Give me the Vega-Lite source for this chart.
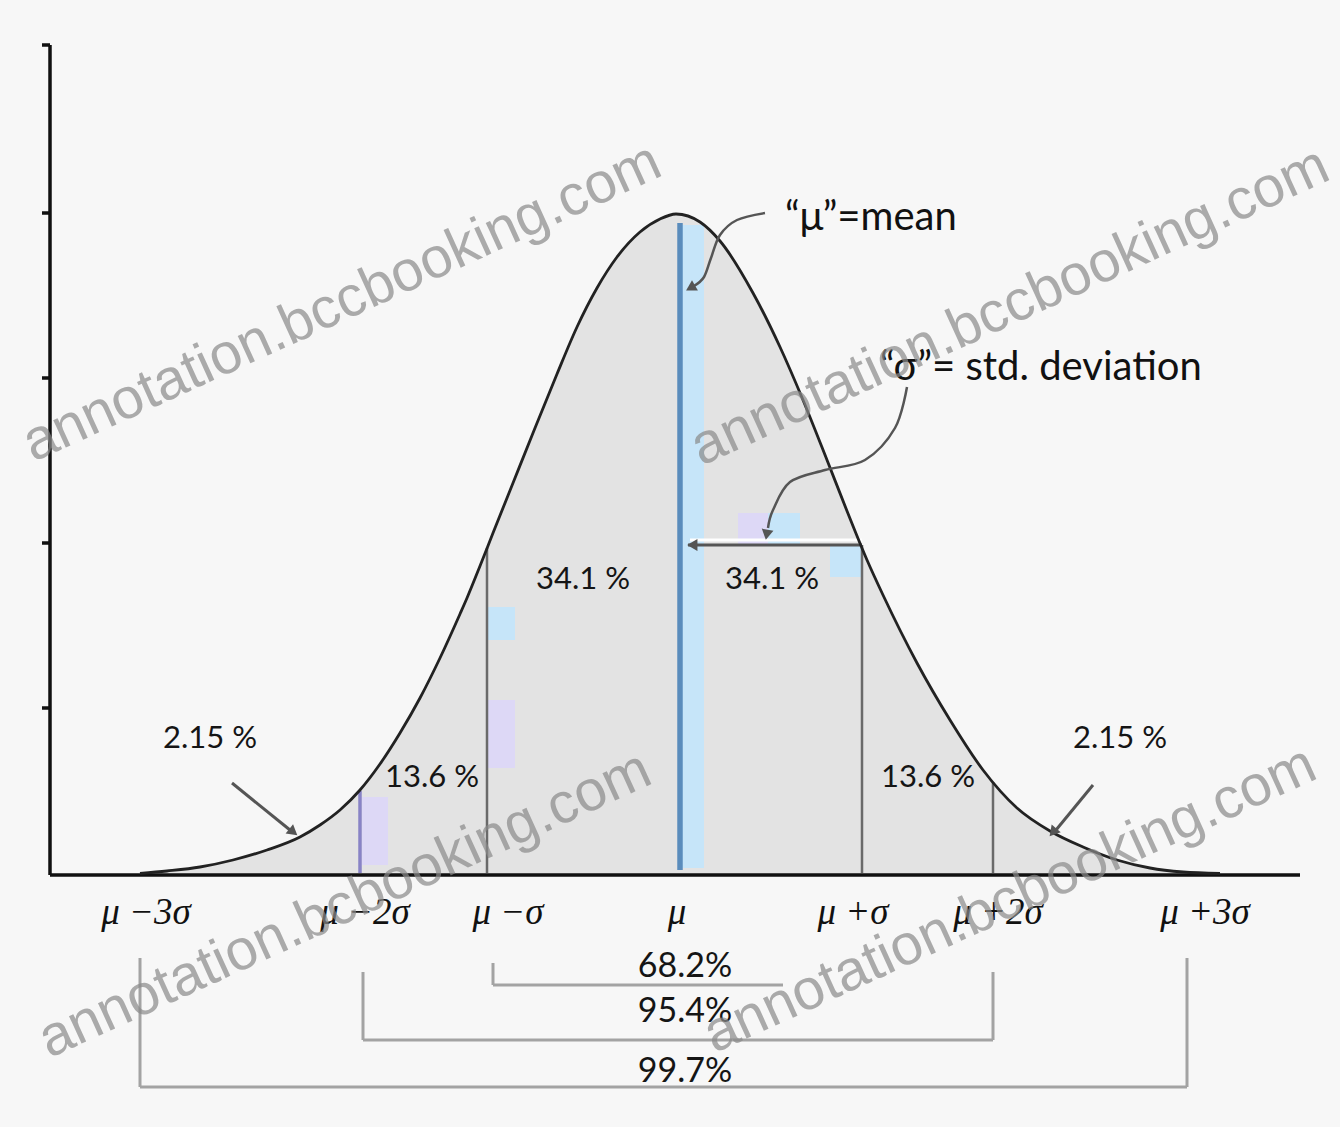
{
  "$schema": "https://vega.github.io/schema/vega-lite/v6.json",
  "width": 1340,
  "height": 1127,
  "autosize": {"type": "none"},
  "padding": 0,
  "background": "#f7f7f7",
  "config": {"view": {"stroke": null}},
  "datasets": {
    "curve": [
      {"u": -540, "v": 1.5}, {"u": -513, "v": 4}, {"u": -480, "v": 8}, {"u": -447, "v": 15},
      {"u": -413, "v": 25}, {"u": -380, "v": 38}, {"u": -360, "v": 50}, {"u": -340, "v": 65},
      {"u": -320, "v": 85}, {"u": -300, "v": 111}, {"u": -280, "v": 142}, {"u": -260, "v": 177},
      {"u": -240, "v": 217}, {"u": -220, "v": 261}, {"u": -213, "v": 277}, {"u": -200, "v": 309},
      {"u": -187, "v": 342}, {"u": -167, "v": 392}, {"u": -147, "v": 442}, {"u": -123, "v": 501},
      {"u": -103, "v": 548}, {"u": -83, "v": 587}, {"u": -63, "v": 618}, {"u": -40, "v": 643},
      {"u": -20, "v": 656}, {"u": -4, "v": 661}, {"u": 20, "v": 653}, {"u": 40, "v": 634},
      {"u": 73, "v": 582}, {"u": 100, "v": 528}, {"u": 123, "v": 475}, {"u": 147, "v": 415},
      {"u": 167, "v": 364}, {"u": 187, "v": 315}, {"u": 203, "v": 280}, {"u": 237, "v": 212},
      {"u": 270, "v": 155}, {"u": 303, "v": 105}, {"u": 337, "v": 67}, {"u": 370, "v": 44},
      {"u": 403, "v": 28}, {"u": 437, "v": 15}, {"u": 470, "v": 7}, {"u": 503, "v": 3},
      {"u": 540, "v": 1.5}
    ],
    "bands": [
      {"kind": "blue", "u": 2, "u2": 24, "v": 7, "v2": 650},
      {"kind": "blue", "u": -192, "u2": -165, "v": 235, "v2": 268},
      {"kind": "lavender", "u": -192, "u2": -165, "v": 107, "v2": 175},
      {"kind": "blue", "u": 150, "u2": 181, "v": 298, "v2": 330},
      {"kind": "lavender", "u": 58, "u2": 88, "v": 330, "v2": 362},
      {"kind": "blue", "u": 88, "u2": 120, "v": 330, "v2": 362},
      {"kind": "lavender", "u": -318, "u2": -292, "v": 10, "v2": 78}
    ],
    "rules": [
      {"group": "sigma", "u": -193, "v": 2, "u2": -193, "v2": 327},
      {"group": "sigma", "u": 182, "v": 2, "u2": 182, "v2": 330},
      {"group": "sigma", "u": 313, "v": 2, "u2": 313, "v2": 93},
      {"group": "purple", "u": -320, "v": 2, "u2": -320, "v2": 84},
      {"group": "mean", "u": 0, "v": 5, "u2": 0, "v2": 652},
      {"group": "highlight", "u": 10, "v": 335, "u2": 182, "v2": 335},
      {"group": "arrow", "u": 8, "v": 330, "u2": 182, "v2": 330},
      {"group": "arrow", "u": -448, "v": 92, "u2": -390, "v2": 45},
      {"group": "arrow", "u": 413, "v": 90, "u2": 376, "v2": 45},
      {"group": "bracket", "u": -187, "v": -88, "u2": -187, "v2": -110},
      {"group": "bracket", "u": -187, "v": -110, "u2": 103, "v2": -110},
      {"group": "bracket", "u": -317, "v": -97, "u2": -317, "v2": -165},
      {"group": "bracket", "u": -317, "v": -165, "u2": 313, "v2": -165},
      {"group": "bracket", "u": 313, "v": -97, "u2": 313, "v2": -165},
      {"group": "bracket", "u": -540, "v": -83, "u2": -540, "v2": -212},
      {"group": "bracket", "u": -540, "v": -212, "u2": 507, "v2": -212},
      {"group": "bracket", "u": 507, "v": -83, "u2": 507, "v2": -212},
      {"group": "axis", "u": -630, "v": 0, "u2": -630, "v2": 830},
      {"group": "axis", "u": -630, "v": 0, "u2": 620, "v2": 0},
      {"group": "axis", "u": -638, "v": 830, "u2": -630, "v2": 830},
      {"group": "axis", "u": -638, "v": 662, "u2": -630, "v2": 662},
      {"group": "axis", "u": -638, "v": 497, "u2": -630, "v2": 497},
      {"group": "axis", "u": -638, "v": 332, "u2": -630, "v2": 332},
      {"group": "axis", "u": -638, "v": 167, "u2": -630, "v2": 167}
    ],
    "paths": [
      {"id": "mu", "o": 1, "u": 85, "v": 662}, {"id": "mu", "o": 2, "u": 57, "v": 655},
      {"id": "mu", "o": 3, "u": 40, "v": 640}, {"id": "mu", "o": 4, "u": 31, "v": 617},
      {"id": "mu", "o": 5, "u": 24, "v": 598}, {"id": "mu", "o": 6, "u": 14, "v": 589},
      {"id": "sd", "o": 1, "u": 227, "v": 488}, {"id": "sd", "o": 2, "u": 215, "v": 447},
      {"id": "sd", "o": 3, "u": 185, "v": 415}, {"id": "sd", "o": 4, "u": 145, "v": 405},
      {"id": "sd", "o": 5, "u": 110, "v": 393}, {"id": "sd", "o": 6, "u": 93, "v": 365},
      {"id": "sd", "o": 7, "u": 88, "v": 347}
    ],
    "heads": [
      {"u": 14, "v": 330, "ang": 270},
      {"u": 12, "v": 588, "ang": 240},
      {"u": 87, "v": 342, "ang": 190},
      {"u": -388, "v": 44, "ang": 129},
      {"u": 374, "v": 44, "ang": 220}
    ],
    "axislabels": [
      {"label": "μ −3σ", "u": -534, "v": -38},
      {"label": "μ −2σ", "u": -315, "v": -38},
      {"label": "μ −σ", "u": -172, "v": -38},
      {"label": "μ", "u": -3, "v": -38},
      {"label": "μ +σ", "u": 173, "v": -38},
      {"label": "μ +2σ", "u": 318, "v": -38},
      {"label": "μ +3σ", "u": 525, "v": -38}
    ],
    "pct": [
      {"label": "34.1 %", "u": -97, "v": 295},
      {"label": "34.1 %", "u": 92, "v": 295},
      {"label": "13.6 %", "u": -248, "v": 97},
      {"label": "13.6 %", "u": 248, "v": 97},
      {"label": "2.15 %", "u": -470, "v": 136},
      {"label": "2.15 %", "u": 440, "v": 136}
    ],
    "totals": [
      {"label": "68.2%", "u": 5, "v": -92},
      {"label": "95.4%", "u": 5, "v": -137},
      {"label": "99.7%", "u": 5, "v": -197}
    ],
    "notes": [
      {"label": "“μ”=mean", "u": 105, "v": 657},
      {"label": "“σ”= std. deviation", "u": 200, "v": 507}
    ],
    "marks": [
      {"label": "annotation.bccbooking.com", "u": -338, "v": 572},
      {"label": "annotation.bccbooking.com", "u": 330, "v": 568},
      {"label": "annotation.bcbooking.com", "u": -335, "v": -30},
      {"label": "annotation.bcbooking.com", "u": 330, "v": -25}
    ]
  },
  "encoding": {
    "x": {"field": "u", "type": "quantitative", "scale": {"domain": [-680, 660], "nice": false, "zero": false}, "axis": null},
    "y": {"field": "v", "type": "quantitative", "scale": {"domain": [-252, 875], "nice": false, "zero": false}, "axis": null}
  },
  "layer": [
    {
      "data": {"name": "curve"},
      "mark": {"type": "area", "interpolate": "monotone", "color": "#e3e3e3"},
      "encoding": {"y2": {"datum": 0}}
    },
    {
      "data": {"name": "bands"},
      "mark": {"type": "rect"},
      "encoding": {
        "x2": {"field": "u2"},
        "y2": {"field": "v2"},
        "color": {"field": "kind", "type": "nominal", "scale": {"domain": ["blue", "lavender"], "range": ["#c6e5f9", "#ddd8f6"]}, "legend": null}
      }
    },
    {
      "data": {"name": "rules"},
      "transform": [{"filter": "datum.group === 'sigma'"}],
      "mark": {"type": "rule", "color": "#6a6a6a", "strokeWidth": 2.5},
      "encoding": {"x2": {"field": "u2"}, "y2": {"field": "v2"}}
    },
    {
      "data": {"name": "rules"},
      "transform": [{"filter": "datum.group === 'purple'"}],
      "mark": {"type": "rule", "color": "#8883c6", "strokeWidth": 3.5},
      "encoding": {"x2": {"field": "u2"}, "y2": {"field": "v2"}}
    },
    {
      "data": {"name": "rules"},
      "transform": [{"filter": "datum.group === 'mean'"}],
      "mark": {"type": "rule", "color": "#5a8cbc", "strokeWidth": 5.5},
      "encoding": {"x2": {"field": "u2"}, "y2": {"field": "v2"}}
    },
    {
      "data": {"name": "rules"},
      "transform": [{"filter": "datum.group === 'highlight'"}],
      "mark": {"type": "rule", "color": "#ffffff", "strokeWidth": 3},
      "encoding": {"x2": {"field": "u2"}, "y2": {"field": "v2"}}
    },
    {
      "data": {"name": "rules"},
      "transform": [{"filter": "datum.group === 'arrow'"}],
      "mark": {"type": "rule", "color": "#555555", "strokeWidth": 3},
      "encoding": {"x2": {"field": "u2"}, "y2": {"field": "v2"}}
    },
    {
      "data": {"name": "rules"},
      "transform": [{"filter": "datum.group === 'bracket'"}],
      "mark": {"type": "rule", "color": "#a3a3a3", "strokeWidth": 3},
      "encoding": {"x2": {"field": "u2"}, "y2": {"field": "v2"}}
    },
    {
      "data": {"name": "rules"},
      "transform": [{"filter": "datum.group === 'axis'"}],
      "mark": {"type": "rule", "color": "#111111", "strokeWidth": 3.5},
      "encoding": {"x2": {"field": "u2"}, "y2": {"field": "v2"}}
    },
    {
      "data": {"name": "curve"},
      "mark": {"type": "line", "interpolate": "monotone", "color": "#222222", "strokeWidth": 2.8},
      "encoding": {}
    },
    {
      "data": {"name": "paths"},
      "mark": {"type": "line", "interpolate": "cardinal", "color": "#555555", "strokeWidth": 2.5},
      "encoding": {"detail": {"field": "id"}, "order": {"field": "o", "type": "quantitative"}}
    },
    {
      "data": {"name": "heads"},
      "mark": {"type": "point", "shape": "triangle", "filled": true, "color": "#555555", "size": 140, "opacity": 1},
      "encoding": {"angle": {"field": "ang", "type": "quantitative", "scale": null}}
    },
    {
      "data": {"name": "axislabels"},
      "mark": {"type": "text", "font": "Liberation Serif", "fontStyle": "italic", "fontSize": 37, "color": "#111111", "align": "center", "baseline": "middle"},
      "encoding": {"text": {"field": "label"}}
    },
    {
      "data": {"name": "pct"},
      "mark": {"type": "text", "font": "Lato", "fontSize": 31, "color": "#151515", "align": "center", "baseline": "middle"},
      "encoding": {"text": {"field": "label"}}
    },
    {
      "data": {"name": "totals"},
      "mark": {"type": "text", "font": "Lato", "fontSize": 34, "color": "#151515", "align": "center", "baseline": "middle"},
      "encoding": {"text": {"field": "label"}}
    },
    {
      "data": {"name": "notes"},
      "mark": {"type": "text", "font": "Lato", "fontSize": 40, "color": "#111111", "align": "left", "baseline": "middle"},
      "encoding": {"text": {"field": "label"}}
    },
    {
      "data": {"name": "marks"},
      "mark": {"type": "text", "font": "Liberation Sans", "fontSize": 57, "angle": -24.5, "color": "#8a8a8a", "opacity": 0.7, "align": "center", "baseline": "middle"},
      "encoding": {"text": {"field": "label"}}
    }
  ]
}
